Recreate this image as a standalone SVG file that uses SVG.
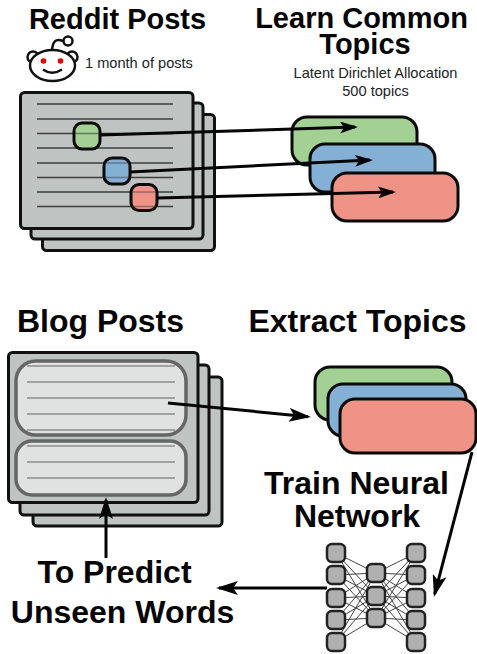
<svg xmlns="http://www.w3.org/2000/svg" width="477" height="654" viewBox="0 0 477 654">
<defs>
<style>
.page{fill:#bfc3c2;stroke:#111;stroke-width:3}
.ln{stroke:#3c3f3f;stroke-width:1.5;fill:none}
.ln2{stroke:#8b8d8c;stroke-width:1.5;fill:none}
.inner{fill:#e0e2e1;stroke:#666;stroke-width:3.5}
.g{fill:#a3d193;stroke:#0a0a0a;stroke-width:3}
.b{fill:#85b0d6;stroke:#0a0a0a;stroke-width:3}
.r{fill:#ef9387;stroke:#0a0a0a;stroke-width:3}
.h{font-family:"Liberation Sans",Arial,sans-serif;font-weight:700;font-size:29px;fill:#050505;text-anchor:middle}
.h2{font-size:32px}
.s{font-family:"Liberation Sans",Arial,sans-serif;font-size:14.600px;fill:#222}
.arrow{stroke:#050505;stroke-width:3;fill:none;marker-end:url(#ah)}
.arrow2{stroke:#050505;stroke-width:3;fill:none;marker-end:url(#ah2)}
.n{fill:#b0b0b0;stroke:#222;stroke-width:2.5}
.e{stroke:#444;stroke-width:1;fill:none}
</style>
<marker id="ah" viewBox="0 0 18 12" refX="15" refY="6" markerWidth="18" markerHeight="12" markerUnits="userSpaceOnUse" orient="auto">
<path d="M0 0L18 6L0 12L4 6Z" fill="#050505"/>
</marker>
<marker id="ah2" viewBox="0 0 22 14" refX="19" refY="7" markerWidth="22" markerHeight="14" markerUnits="userSpaceOnUse" orient="auto">
<path d="M0 0L22 7L0 14L5 7Z" fill="#050505"/>
</marker>
</defs>

<g id="reddit-title"><text class="h" x="117.500" y="29">Reddit Posts</text></g>
<g id="reddit-logo" fill="none" stroke="#111" stroke-width="2.500">
<circle cx="33" cy="57" r="5.500" fill="#fff"/><circle cx="72" cy="57" r="5.500" fill="#fff"/>
<ellipse cx="52.500" cy="65.500" rx="22.500" ry="15.500" fill="#fff"/>
<path d="M52 49.500C53 42 55 38 63 41"/><circle cx="68" cy="41" r="4.500" fill="#fff"/>
<circle cx="43.500" cy="61" r="2.800" fill="#e60000" stroke="none"/><circle cx="60.500" cy="61" r="2.800" fill="#e60000" stroke="none"/>
<path d="M43 69.500Q52 76 62 69.500"/>
</g>
<g id="reddit-note"><text class="s" x="85" y="68">1 month of posts</text></g>
<g id="learn-title"><text class="h" x="361.500" y="28">Learn Common</text><text class="h" x="365" y="54">Topics</text></g>
<g id="lda-note"><text class="s" x="375.500" y="78" text-anchor="middle">Latent Dirichlet Allocation</text><text class="s" x="375.500" y="96" text-anchor="middle">500 topics</text></g>

<g id="reddit-stack">
<rect class="page" x="42.500" y="114.500" width="172" height="136" rx="4"/>
<rect class="page" x="31" y="103" width="172" height="136" rx="4"/>
<rect class="page" x="20.500" y="92.500" width="172.500" height="136" rx="4"/>
<path class="ln" d="M37 104H173M37 119H173M37 133.500H173M37 148H173M37 163H173M37 177.500H173M37 192H173M37 206.500H173"/>
</g>
<g id="reddit-green"><rect class="g" x="74" y="123" width="26" height="26" rx="8"/><path class="ln" d="M75 133.500H99" opacity=".6"/></g>
<g id="reddit-blue"><rect class="b" x="104" y="158" width="26" height="26" rx="8"/><path class="ln" d="M105 163H129M105 177.500H129" opacity=".5"/></g>
<g id="reddit-red"><rect class="r" x="131" y="184.500" width="26" height="26" rx="8"/><path class="ln" d="M132 192H156M132 206.500H156" opacity=".5"/></g>

<g id="topic-green-1"><rect class="g" x="292" y="117" width="125" height="48" rx="15"/></g>
<g id="topic-blue-1"><rect class="b" x="310" y="144" width="125" height="48" rx="15"/></g>
<g id="topic-red-1"><rect class="r" x="332" y="173" width="126" height="48" rx="15"/></g>

<g id="blog-title"><text class="h h2" x="100.500" y="332">Blog Posts</text></g>
<g id="extract-title"><text class="h h2" x="357.500" y="332">Extract Topics</text></g>
<g id="blog-stack">
<rect class="page" x="33" y="377" width="189" height="149" rx="4"/>
<rect class="page" x="20" y="365" width="189" height="150" rx="4"/>
<rect class="page" x="8.500" y="352.500" width="189.500" height="150" rx="4"/>
</g>
<g id="blog-upper"><rect class="inner" x="16" y="361" width="170" height="74" rx="20"/><path class="ln2" d="M27 366H175M27 382H175M27 398H175M27 414H175M27 430H175"/></g>
<g id="blog-lower"><rect class="inner" x="16" y="441" width="170" height="54" rx="16"/><path class="ln2" d="M27 446H175M27 462H175M27 478H175"/></g>

<g id="topic-green-2"><rect class="g" x="315" y="367" width="137" height="53" rx="15"/></g>
<g id="topic-blue-2"><rect class="b" x="328" y="384" width="138" height="52" rx="15"/></g>
<g id="topic-red-2"><rect class="r" x="340" y="399" width="136" height="54" rx="15"/></g>

<g id="train-title"><text class="h h2" x="356.500" y="494">Train Neural</text><text class="h h2" x="357" y="527">Network</text></g>
<g id="predict-title"><text class="h h2" x="114.500" y="583">To Predict</text><text class="h h2" x="122.500" y="623">Unseen Words</text></g>

<g id="nn-edges">
<path class="e" d="M336 553L376 573M336 553L376 596M336 553L376 618M336 575L376 573M336 575L376 596M336 575L376 618M336 598L376 573M336 598L376 596M336 598L376 618M336 620L376 573M336 620L376 596M336 620L376 618M336 642L376 573M336 642L376 596M336 642L376 618M376 573L416 553M376 573L416 575M376 573L416 598M376 573L416 620M376 573L416 642M376 596L416 553M376 596L416 575M376 596L416 598M376 596L416 620M376 596L416 642M376 618L416 553M376 618L416 575M376 618L416 598M376 618L416 620M376 618L416 642"/>
</g>
<g id="nn-left-1"><rect class="n" x="327" y="544" width="18" height="18" rx="5"/></g>
<g id="nn-left-2"><rect class="n" x="327" y="566" width="18" height="18" rx="5"/></g>
<g id="nn-left-3"><rect class="n" x="327" y="589" width="18" height="18" rx="5"/></g>
<g id="nn-left-4"><rect class="n" x="327" y="611" width="18" height="18" rx="5"/></g>
<g id="nn-left-5"><rect class="n" x="327" y="633" width="18" height="18" rx="5"/></g>
<g id="nn-mid-1"><rect class="n" x="367" y="564" width="18" height="18" rx="5"/></g>
<g id="nn-mid-2"><rect class="n" x="367" y="587" width="18" height="18" rx="5"/></g>
<g id="nn-mid-3"><rect class="n" x="367" y="609" width="18" height="18" rx="5"/></g>
<g id="nn-right-1"><rect class="n" x="407" y="544" width="18" height="18" rx="5"/></g>
<g id="nn-right-2"><rect class="n" x="407" y="566" width="18" height="18" rx="5"/></g>
<g id="nn-right-3"><rect class="n" x="407" y="589" width="18" height="18" rx="5"/></g>
<g id="nn-right-4"><rect class="n" x="407" y="611" width="18" height="18" rx="5"/></g>
<g id="nn-right-5"><rect class="n" x="407" y="633" width="18" height="18" rx="5"/></g>

<g id="connectors">
<path class="arrow" d="M100 135L355 127.100"/>
<path class="arrow" d="M130 172L370 160.100"/>
<path class="arrow" d="M157 198L393 192.100"/>
<path class="arrow2" d="M168 403L308 416.700"/>
<path class="arrow2" d="M472 452L434.700 594.100"/>
<path class="arrow2" d="M327 588L219 588"/>
<path class="arrow2" d="M106 558L106 500"/>
</g>
</svg>
